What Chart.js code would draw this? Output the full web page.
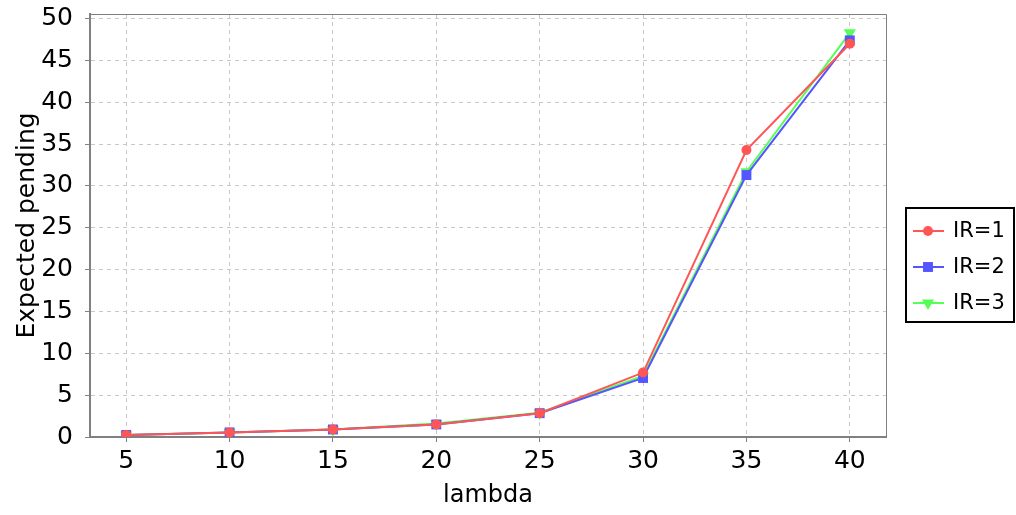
<!DOCTYPE html>
<html>
<head>
<meta charset="utf-8">
<script src="https://cdn.jsdelivr.net/npm/chart.js@4/dist/chart.umd.min.js"></script>
<style>
  body { margin: 0; background: #fff; }
</style>
</head>
<body>
<canvas id="chart" width="1016" height="515"></canvas>
<script>
// values
var lambdas = [5, 10, 15, 20, 25, 30, 35, 40];
var ir1 = [0.25, 0.55, 0.9, 1.5, 2.85, 7.7, 34.3, 47.0];
var ir2 = [0.25, 0.55, 0.9, 1.5, 2.85, 7.05, 31.3, 47.4];
var ir3 = [0.25, 0.55, 0.9, 1.6, 2.9, 7.3, 31.7, 48.3];
var seriesNames = ['IR=1', 'IR=2', 'IR=3'];
var xTicks = [5, 10, 15, 20, 25, 30, 35, 40];
var yTicks = [0, 5, 10, 15, 20, 25, 30, 35, 40, 45, 50];

var FONT = 'DejaVu Sans';

function pts(vals) {
  return lambdas.map(function (x, i) { return { x: x, y: vals[i] }; });
}

function series(label, vals, color, style, radius, rotation) {
  return {
    label: label,
    data: pts(vals),
    borderColor: color,
    backgroundColor: color,
    borderWidth: 2,
    pointStyle: style,
    pointRadius: radius,
    pointRotation: rotation,
    pointBorderWidth: 0,
    pointBackgroundColor: color,
    tension: 0,
  };
}

// top/right plot outline (left + bottom come from the axes)
var outline = {
  id: 'outline',
  beforeDatasetsDraw: function (chart) {
    var a = chart.chartArea, ctx = chart.ctx;
    ctx.save();
    ctx.strokeStyle = '#808080';
    ctx.lineWidth = 1;
    ctx.beginPath();
    ctx.moveTo(a.left, a.top + 0.5);
    ctx.lineTo(a.right + 0.5, a.top + 0.5);
    ctx.lineTo(a.right + 0.5, a.bottom);
    ctx.stroke();
    ctx.restore();
  },
};

// boxed legend on the right, line + marker like the original
var boxLegend = {
  id: 'boxLegend',
  afterDraw: function (chart) {
    var ctx = chart.ctx;
    var bx = 906, by = 208, bw = 108, bh = 114, rowH = 36;
    ctx.save();
    ctx.fillStyle = '#fff';
    ctx.fillRect(bx, by, bw, bh);
    ctx.strokeStyle = '#000';
    ctx.lineWidth = 2;
    ctx.strokeRect(bx, by, bw, bh);
    ctx.font = '21px "' + FONT + '"';
    ctx.textBaseline = 'middle';
    chart.data.datasets.forEach(function (ds, i) {
      var cy = by + 23 + i * rowH;
      ctx.strokeStyle = ds.borderColor;
      ctx.lineWidth = 2;
      ctx.beginPath();
      ctx.moveTo(bx + 7, cy);
      ctx.lineTo(bx + 38, cy);
      ctx.stroke();
      ctx.fillStyle = ds.borderColor;
      Chart.helpers.drawPoint(ctx, {
        pointStyle: ds.pointStyle,
        radius: ds.pointRadius,
        rotation: ds.pointRotation,
        borderWidth: 0,
      }, bx + 22, cy);
      ctx.fillStyle = '#000';
      ctx.fillText(ds.label, bx + 47, cy + 1);
    });
    ctx.restore();
  },
};

new Chart(document.getElementById('chart'), {
  type: 'line',
  data: {
    datasets: [
      series(seriesNames[0], ir1, '#ff5555', 'circle', 5, 0),
      series(seriesNames[1], ir2, '#5555ff', 'rect', 7, 0),
      series(seriesNames[2], ir3, '#55ff55', 'triangle', 7, 180),
    ],
  },
  options: {
    responsive: false,
    animation: false,
    devicePixelRatio: 1,
    layout: { padding: { left: 0, top: 14, right: 130, bottom: 0 } },
    plugins: {
      legend: { display: false },
      tooltip: { enabled: false },
    },
    scales: {
      x: {
        type: 'linear',
        min: 3.25,
        max: 41.75,
        afterBuildTicks: function (s) { s.ticks = xTicks.map(function (v) { return { value: v }; }); },
        afterFit: function (s) { s.height = 78; s.paddingLeft = 0; s.paddingRight = 0; },
        ticks: {
          font: { family: FONT, size: 25 },
          color: '#000',
          padding: 4,
          maxRotation: 0,
        },
        grid: { color: '#c8c8c8', tickColor: '#808080', tickLength: 5, tickWidth: 1, tickBorderDash: [] },
        border: { color: '#808080', width: 2, dash: [4, 4] },
        title: {
          display: true,
          text: 'lambda',
          color: '#000',
          font: { family: FONT, size: 24 },
          padding: { top: 0, bottom: 5 },
        },
      },
      y: {
        min: 0,
        max: 50.55,
        afterBuildTicks: function (s) { s.ticks = yTicks.map(function (v) { return { value: v }; }); },
        afterFit: function (s) { s.width = 90; s.paddingTop = 0; s.paddingBottom = 0; },
        ticks: {
          font: { family: FONT, size: 25 },
          color: '#000',
          padding: 12,
        },
        grid: { color: '#c8c8c8', tickColor: '#808080', tickLength: 5, tickWidth: 1, tickBorderDash: [] },
        border: { color: '#808080', width: 2, dash: [4, 4] },
        title: {
          display: true,
          text: 'Expected pending',
          color: '#000',
          font: { family: FONT, size: 25 },
          padding: { top: 12, bottom: 0 },
        },
      },
    },
  },
  plugins: [outline, boxLegend],
});
</script>
</body>
</html>
